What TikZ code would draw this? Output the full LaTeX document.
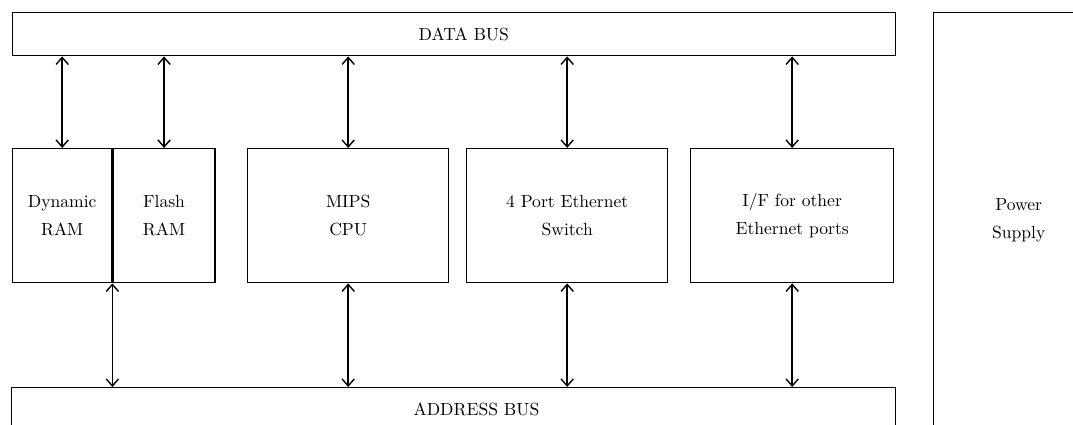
\documentclass[tikz,border=0pt]{standalone}
\usepackage{tikz}
\usetikzlibrary{arrows.meta, positioning}

\tikzset{
  blk/.style={draw, thick, inner sep=0pt, anchor=north west, align=center,
    font=\fontsize{10}{16}\selectfont},
  link/.style={thick, {Straight Barb[length=4pt,width=7pt]}-{Straight Barb[length=4pt,width=7pt]}}
}

\begin{document}
\begin{tikzpicture}[x=0.02cm, y=-0.02cm]
\useasboundingbox (0,0) rectangle (1073,425);
% 总线
\node[blk, minimum width=17.66cm, minimum height=0.86cm] (databus) at (12,12) {\hspace*{11pt}DATA BUS};
\node[blk, minimum width=17.68cm, minimum height=0.86cm] (addrbus) at (11,387) {\hspace*{26pt}ADDRESS BUS};

% 存储器
\node[blk, minimum width=1.98cm, minimum height=2.68cm] (dram) at (12,148) {Dynamic\\RAM};
\node[blk, minimum width=2.04cm, minimum height=2.68cm] (flash) at (dram.north east) {Flash\\RAM};

% 处理器与接口
\node[blk, minimum width=4.02cm, minimum height=2.68cm] (cpu) at (247,148) {MIPS\\CPU};
\node[blk, minimum width=4.02cm, minimum height=2.68cm] (switch) at (466,148) {4 Port Ethernet\\Switch};
\node[blk, minimum width=4.06cm, minimum height=2.68cm] (iface) at (690,148) {I/F for other\\Ethernet ports};

% 电源
\node[blk, minimum width=3.4cm, minimum height=8.32cm] (power) at (933,12) {Power\\Supply};

% 数据总线连接
\draw[link] (dram.north) -- (dram.north |- databus.south);
\draw[link] (flash.north) -- (flash.north |- databus.south);
\draw[link] (cpu.north) -- (cpu.north |- databus.south);
\draw[link] (switch.north) -- (switch.north |- databus.south);
\draw[link] (iface.north) -- (iface.north |- databus.south);

% 地址总线连接
\draw[link] (dram.south east) -- (dram.south east |- addrbus.north);
\draw[link] (cpu.south) -- (cpu.south |- addrbus.north);
\draw[link] (switch.south) -- (switch.south |- addrbus.north);
\draw[link] (iface.south) -- (iface.south |- addrbus.north);
\end{tikzpicture}
\end{document}
